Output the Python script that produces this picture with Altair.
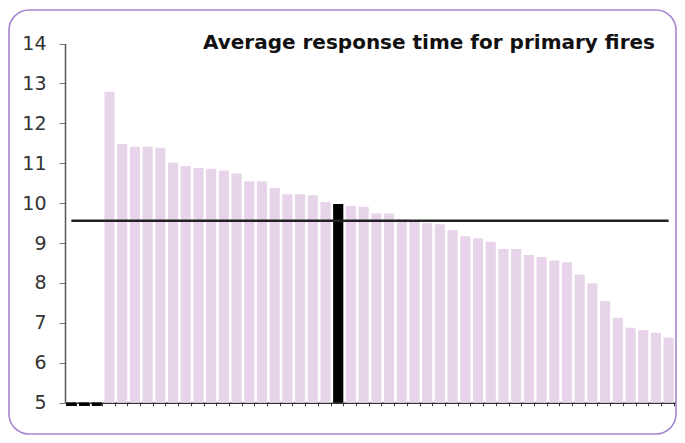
import altair as alt
import pandas as pd

# ---- data ----
categories = [f"Area {i+1}" for i in range(48)]
response_time = [None, None, None,
                 12.79, 11.48, 11.41, 11.41, 11.39, 11.01, 10.93, 10.88, 10.86, 10.82,
                 10.74, 10.55, 10.55, 10.38, 10.22, 10.22, 10.20, 10.03, 9.98, 9.93,
                 9.91, 9.74, 9.74, 9.60, 9.58, 9.50, 9.47, 9.33, 9.17, 9.12, 9.03,
                 8.85, 8.85, 8.70, 8.65, 8.56, 8.52, 8.21, 7.99, 7.55, 7.13, 6.88,
                 6.82, 6.75, 6.63]
highlight_category = "Area 22"
average_value = 9.56
y_ticks = [5, 6, 7, 8, 9, 10, 11, 12, 13, 14]
title_text = "Average response time for primary fires"

df = pd.DataFrame({"cat": categories, "value": response_time})
df["kind"] = ["highlight" if c == highlight_category else "other" for c in categories]
df_bars = df[df["value"].notna()]
df_missing = df[df["value"].isna()].assign(base=5)
df_avg = pd.DataFrame({"cat": categories, "avg": [average_value] * len(categories)})

W, H = 667, 424
x_scale = alt.Scale(domain=categories, range=[56, 666], paddingInner=0.2, paddingOuter=0.1)
y_scale = alt.Scale(domain=[5, 14], range=[392.7, 33.5], zero=False, nice=False)

x_axis = alt.Axis(labels=False, title=None, tickBand="extent", tickSize=3, tickColor="#333",
                  domainColor="#333", domainWidth=1.5, offset=-(H - 392.7), grid=False)
y_axis = alt.Axis(values=y_ticks, title=None, tickSize=6, tickColor="#777", domainColor="#555",
                  domainWidth=1.5, labelFont="DejaVu Sans", labelFontSize=19, labelColor="#333",
                  labelPadding=13, offset=-56, grid=False)

bars = alt.Chart(df_bars).mark_bar().encode(
    x=alt.X("cat:N", scale=x_scale, axis=x_axis, sort=categories),
    y=alt.Y("value:Q", scale=y_scale, axis=y_axis),
    y2=alt.datum(5),
    color=alt.Color("kind:N", scale=alt.Scale(domain=["highlight", "other"],
                                               range=["#000000", "#e8d4ea"]), legend=None),
)

missing = alt.Chart(df_missing).mark_tick(thickness=3.5, size=10, color="#000", opacity=1,
                                          yOffset=1.5).encode(
    x=alt.X("cat:N", sort=categories),
    y=alt.Y("base:Q"),
)

avg_line = alt.Chart(df_avg).mark_line(color="#222", strokeWidth=2.5).encode(
    x=alt.X("cat:N", sort=categories),
    y=alt.Y("avg:Q"),
)

chart = alt.layer(bars, avg_line, missing).properties(
    width=W, height=H,
    autosize=alt.AutoSizeParams(type="none"),
    padding={"left": 1, "top": 2, "right": 1, "bottom": 1},
    title=alt.Title(title_text, anchor="end", frame="group", orient="top", baseline="alphabetic",
                    offset=0, dy=59, dx=-21, font="DejaVu Sans", fontSize=20,
                    fontWeight="bold", color="#111"),
).configure(
    background="white",
    view=alt.ViewConfig(stroke="#a585d0", strokeWidth=1.6, cornerRadius=20, fill="white"),
)

chart.save("out.html", embed_options={"renderer": "svg", "actions": False})
